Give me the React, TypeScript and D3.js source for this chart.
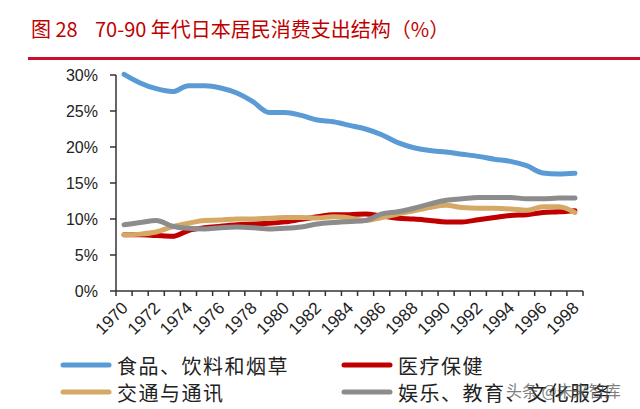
import React from 'react';
import * as d3 from 'd3';

const years = ['1970','1971','1972','1973','1974','1975','1976','1977','1978','1979','1980','1981','1982','1983','1984','1985','1986','1987','1988','1989','1990','1991','1992','1993','1994','1995','1996','1997','1998'];
const food = [30.1, 28.9, 28.1, 27.7, 28.5, 28.5, 28.2, 27.5, 26.3, 24.8, 24.8, 24.4, 23.75, 23.5, 23.0, 22.5, 21.7, 20.6, 19.9, 19.5, 19.3, 19.0, 18.7, 18.3, 18.0, 17.4, 16.4, 16.25, 16.35];
const medical = [7.8, 7.8, 7.7, 7.6, 8.4, 8.8, 9.0, 9.2, 9.3, 9.4, 9.6, 9.95, 10.3, 10.6, 10.6, 10.7, 10.4, 10.1, 10.0, 9.8, 9.6, 9.6, 9.9, 10.2, 10.5, 10.6, 10.9, 11.0, 11.15];
const transport = [7.8, 7.9, 8.2, 8.9, 9.4, 9.8, 9.85, 10.0, 10.0, 10.1, 10.2, 10.2, 10.15, 10.3, 10.15, 9.8, 10.2, 10.7, 11.15, 11.6, 11.9, 11.6, 11.5, 11.5, 11.4, 11.2, 11.7, 11.7, 10.9];
const leisure = [9.2, 9.5, 9.8, 9.0, 8.7, 8.6, 8.8, 8.9, 8.8, 8.6, 8.7, 8.9, 9.3, 9.5, 9.65, 9.8, 10.7, 11.0, 11.5, 12.1, 12.6, 12.8, 13.0, 13.0, 13.0, 12.8, 12.8, 12.9, 12.9];
const yTicks = [0, 5, 10, 15, 20, 25, 30];
const seriesNames = ['食品、饮料和烟草', '医疗保健', '交通与通讯', '娱乐、教育、文化服务'];
const titleNum = '图 28';
const titleText = '70-90 年代日本居民消费支出结构（%）';
const watermark = '头条 @未来智库';

const colors = ['#5B9BD5', '#C00000', '#D6A865', '#8C8C8C'];
const seriesData = [food, medical, transport, leisure];

export default function App() {
  const x = d3.scaleBand<string>().domain(years).range([116, 583]).padding(0);
  const y = d3.scaleLinear().domain([0, 30]).range([291, 75]);
  const cx = (d: string) => (x(d) as number) + x.bandwidth() / 2;
  const line = d3.line<number>()
    .x((_, i) => cx(years[i]))
    .y((v) => y(v))
    .curve(d3.curveMonotoneX);
  const boundaries = d3.range(years.length + 1).map((i) => 116 + i * x.bandwidth());
  const axisColor = '#333';
  const cjk = '"Noto Sans CJK SC", "Noto Sans", sans-serif';
  const latin = '"Liberation Sans", Arial, sans-serif';

  const legendItems = [
    { name: seriesNames[0], color: colors[0], sx: 63, tx: 117, y: 365 },
    { name: seriesNames[1], color: colors[1], sx: 344, tx: 398, y: 365 },
    { name: seriesNames[2], color: colors[2], sx: 63, tx: 117, y: 392 },
    { name: seriesNames[3], color: colors[3], sx: 344, tx: 398, y: 392 },
  ];

  return (
    <svg width={640} height={409} style={{ position: 'absolute', left: 0, top: 0, background: '#fff' }}>
      <rect x={0} y={0} width={640} height={409} fill="#fff" />
      <text x={31} y={37} fontFamily={cjk} fontSize={20} fill="#C00000">{titleNum}</text>
      <text x={95} y={37} fontFamily={cjk} fontSize={20} fill="#C00000">{titleText}</text>
      <rect x={28} y={57} width={612} height={3} fill="#C8102E" />

      {/* y axis */}
      <line x1={116} x2={116} y1={y(30)} y2={y(0)} stroke={axisColor} strokeWidth={1.5} />
      {yTicks.map((t) => (
        <g key={t}>
          <line x1={110} x2={116} y1={y(t)} y2={y(t)} stroke={axisColor} strokeWidth={1.5} />
          <text x={98} y={y(t)} textAnchor="end" dominantBaseline="central" fontFamily={latin} fontSize={16} fill="#222">{t}%</text>
        </g>
      ))}

      {/* x axis */}
      <line x1={116} x2={583} y1={y(0)} y2={y(0)} stroke={axisColor} strokeWidth={1.5} />
      {boundaries.map((b, i) => (
        <line key={i} x1={b} x2={b} y1={y(0)} y2={y(0) + 5} stroke={axisColor} strokeWidth={1.5} />
      ))}
      {years.map((yr, i) => i % 2 === 0 ? (
        <text key={yr} transform={`translate(${cx(yr) + 5},${309}) rotate(-45)`} textAnchor="end" fontFamily={latin} fontSize={17} fill="#222">{yr}</text>
      ) : null)}

      {/* lines */}
      {seriesData.map((s, k) => (
        <path key={k} d={line(s) as string} fill="none" stroke={colors[k]} strokeWidth={5} strokeLinejoin="round" strokeLinecap="round" />
      ))}

      {/* legend */}
      {legendItems.map((it, k) => (
        <g key={k}>
          <line x1={it.sx} x2={it.sx + 46} y1={it.y} y2={it.y} stroke={it.color} strokeWidth={5} strokeLinecap="round" />
          <text x={it.tx} y={it.y} dominantBaseline="central" fontFamily={cjk} fontSize={20} letterSpacing={1.5} fill="#222">{it.name}</text>
        </g>
      ))}
      <text x={506} y={390} dominantBaseline="central" fontFamily={cjk} fontSize={16} fill="#555" opacity={0.75}>{watermark}</text>
    </svg>
  );
}
